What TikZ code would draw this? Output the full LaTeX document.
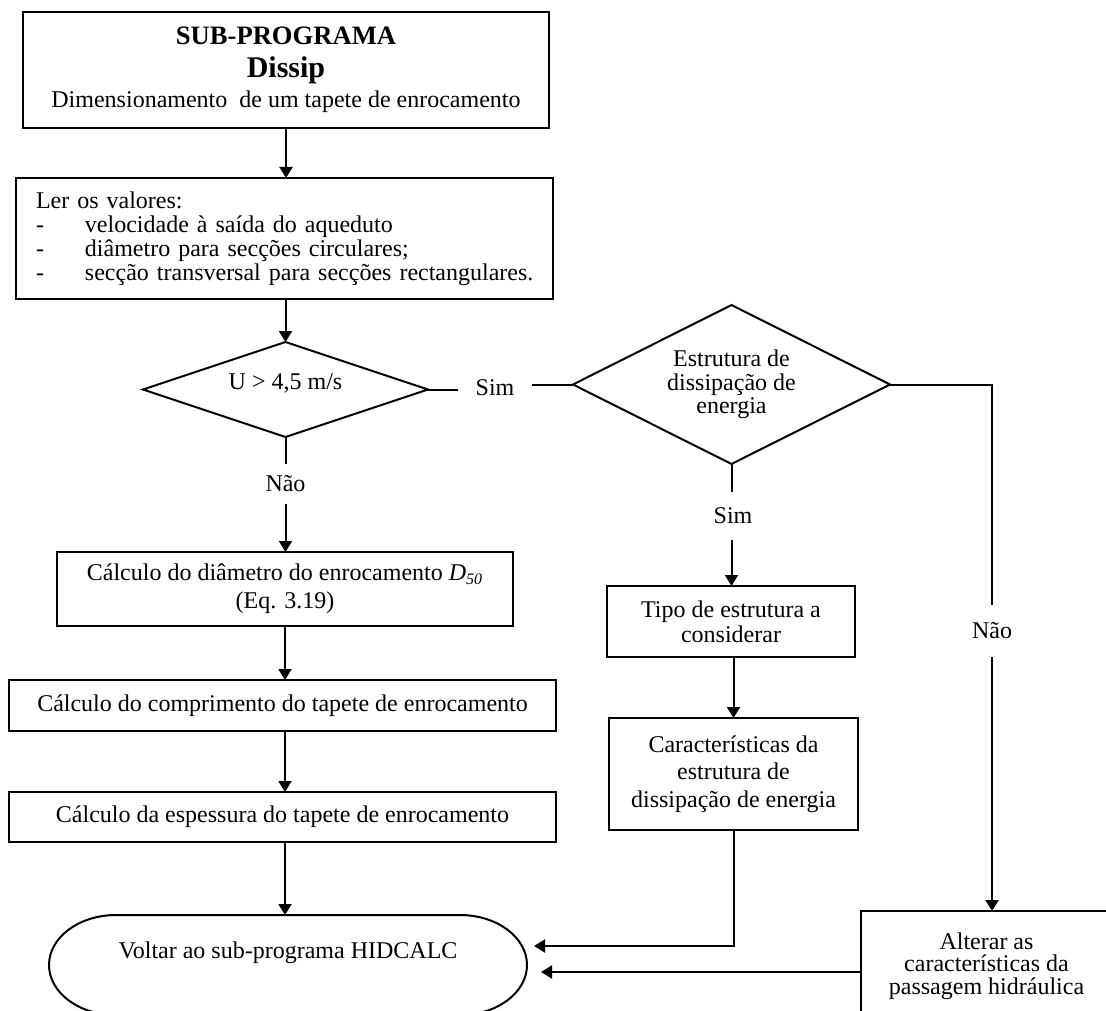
\documentclass[tikz,border=0pt]{standalone}
\usepackage{fontspec}
\setmainfont{Liberation Serif}
\usetikzlibrary{shapes.geometric,arrows.meta}
\begin{document}
\begin{tikzpicture}[x=0.5pt,y=-0.5pt,
  every node/.style={font=\fontsize{12}{13.8}\selectfont, inner sep=0pt, outer sep=0pt},
  box/.style={draw, line width=1pt, rectangle, align=center},
  dec/.style={draw, line width=1pt, diamond, aspect=2, align=center},
  line/.style={line width=1pt},
  arr/.style={line width=1pt, -{Triangle[length=5.5pt,width=6.5pt]}}]
\useasboundingbox (0,0) rectangle (1106,1010);

% left column
\node[box, minimum width=263pt, minimum height=58pt, font=\fontsize{12}{15}\selectfont] (title) at (286,70)
  {{\fontsize{13.3}{15}\bfseries SUB-PROGRAMA}\\[1.5pt]{\fontsize{15}{15}\bfseries Dissip}\\Dimensionamento\ \ de um tapete de enrocamento};
\node[box, minimum width=268.5pt, minimum height=60.5pt, text width=258pt, align=left, inner xsep=5.25pt, font=\fontsize{12}{12}\selectfont] (ler) at (284.5,238.5)
  {\hspace*{4.75pt}Ler os valores:\\
   \hspace*{4.75pt}\makebox[24.5pt][l]{-}velocidade à saída do aqueduto\\
   \hspace*{4.75pt}\makebox[24.5pt][l]{-}diâmetro para secções circulares;\\
   \hspace*{4.75pt}\makebox[24.5pt][l]{-}secção transversal para secções rectangulares.};
\node[dec, minimum width=142.5pt, minimum height=47.5pt] (d1) at (285.5,389.5)
  {\raisebox{3pt}[\height][\depth]{U > 4,5 m/s}};
\node[inner xsep=9pt] (sim1) at (495,388) {Sim};
\node[inner ysep=6pt] (nao1) at (285.5,484) {Não};
\node[box, minimum width=228pt, minimum height=37pt, font=\fontsize{12}{14}\selectfont] (d50) at (285,589)
  {Cálculo do diâmetro do enrocamento \textit{D}\textsubscript{\textit{50}}\\(Eq. 3.19)};
\node[box, minimum width=273.5pt, minimum height=25.5pt] (comp) at (282.5,705.5)
  {Cálculo do comprimento do tapete de enrocamento};
\node[box, minimum width=273.5pt, minimum height=25pt] (esp) at (282.5,817)
  {Cálculo da espessura do tapete de enrocamento};
\node[minimum width=239pt, minimum height=50pt] (ret) at (288,965)
  {\raisebox{6pt}[\height][\depth]{Voltar ao sub-programa HIDCALC}};
\draw[line] ([xshift=33.5pt]ret.north west) -- ([xshift=-33.5pt]ret.north east)
  arc[start angle=90,end angle=-90,x radius=33.5pt,y radius=25pt]
  -- ([xshift=33.5pt]ret.south west)
  arc[start angle=270,end angle=90,x radius=33.5pt,y radius=25pt] -- cycle;

% right part
\node[dec, minimum width=158.5pt, minimum height=79.5pt, font=\fontsize{12}{11.75}\selectfont] (d2) at (731.5,384.5)
  {Estrutura de\\dissipação de\\energia};
\node[inner ysep=8pt] (sim2) at (733,516) {Sim};
\node[box, minimum width=124pt, minimum height=35.5pt, font=\fontsize{12}{12.5}\selectfont] (tipo) at (731,621.5)
  {Tipo de estrutura a\\considerar};
\node[box, minimum width=124.5pt, minimum height=56pt, font=\fontsize{12}{13.75}\selectfont] (car) at (733.5,774)
  {Características da\\estrutura de\\dissipação de energia};
\node[inner ysep=9pt] (nao2) at (992,631) {Não};
\node[box, minimum width=125.5pt, minimum height=55pt, font=\fontsize{12}{11.25}\selectfont] (alt) at (986.5,966)
  {Alterar as\\características da\\passagem hidráulica};

\coordinate (rin1) at (534,946);
\coordinate (rin2) at (541,972);

% connectors
\draw[arr] (title.south) -- (title.south |- ler.north);
\draw[arr] (ler.south -| d1.north) -- (d1.north);
\draw[line] (d1.east) -- (d1.east -| sim1.west);
\draw[line] (sim1.east |- d2.west) -- (d2.west);
\draw[line] (d1.south) -- (nao1.north);
\draw[arr] (nao1.south) -- (nao1.south |- d50.north);
\draw[arr] (d50.south) -- (d50.south |- comp.north);
\draw[arr] (d50.south |- comp.south) -- (d50.south |- esp.north);
\draw[arr] (d50.south |- esp.south) -- (d50.south |- ret.north);

\draw[line] (d2.east) -| (nao2.north);
\draw[arr] (nao2.south) -- (nao2.south |- alt.north);
\draw[line] (d2.south) -- (d2.south |- sim2.north);
\draw[arr] (sim2.south -| d2.south) -- (d2.south |- tipo.north);
\draw[arr] (tipo.south -| car.north) -- (car.north);
\draw[arr] (car.south) |- (rin1);
\draw[arr] (alt.west |- rin2) -- (rin2);
\end{tikzpicture}
\end{document}
